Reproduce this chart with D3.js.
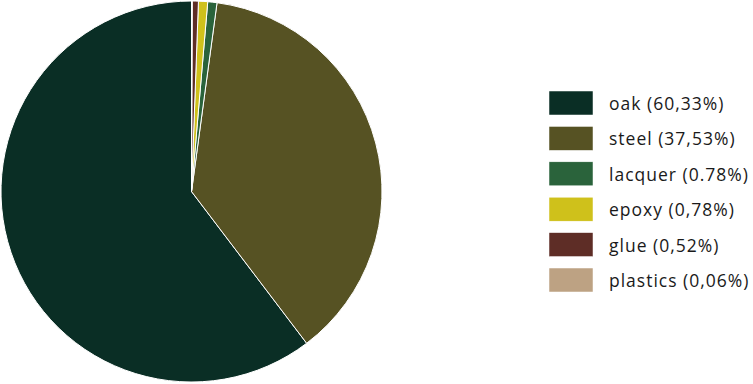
<!DOCTYPE html>
<html>
<head>
<meta charset="utf-8">
<script src="https://cdn.jsdelivr.net/npm/d3@7"></script>
<style>
  body { margin: 0; background: #fff; }
  svg { display: block; }
  .legend text { font-family: "Open Sans", sans-serif; font-size: 17.5px; fill: #1a1a1a; letter-spacing: 1px; }
</style>
</head>
<body>
<svg id="chart" width="753" height="384"></svg>
<script>
var categories = ["oak", "steel", "lacquer", "epoxy", "glue", "plastics"];
var values = [60.33, 37.53, 0.78, 0.78, 0.52, 0.06];
var labels = ["oak (60,33%)", "steel (37,53%)", "lacquer (0.78%)", "epoxy (0,78%)", "glue (0,52%)", "plastics (0,06%)"];
var colors = ["#0a2e25", "#565223", "#2a633b", "#cfc11b", "#5e2d26", "#bda283"];

var svg = d3.select("#chart");

var data = categories.map(function(c, i){
  return { name: c, value: values[i], label: labels[i], color: colors[i] };
});

// counter-clockwise from 12 o'clock, data order kept
var pie = d3.pie()
  .sort(null)
  .value(function(d){ return d.value; })
  .startAngle(0)
  .endAngle(-2 * Math.PI);

var arc = d3.arc().innerRadius(0).outerRadius(190.5);

var g = svg.append("g").attr("transform", "translate(191.5,191.5)");

g.selectAll("path")
  .data(pie(data))
  .enter()
  .append("path")
  .attr("d", arc)
  .attr("fill", function(d){ return d.data.color; })
  .attr("stroke", "#fff")
  .attr("stroke-width", 1);

// legend
var y = d3.scaleBand()
  .domain(categories)
  .range([91, 91 + 35.4 * categories.length]);

var legend = svg.append("g").attr("class", "legend");

var row = legend.selectAll("g")
  .data(data)
  .enter()
  .append("g")
  .attr("transform", function(d){ return "translate(549," + y(d.name) + ")"; });

row.append("rect")
  .attr("width", 44)
  .attr("height", 24)
  .attr("fill", function(d){ return d.color; })
  .attr("stroke", "#fff")
  .attr("stroke-width", 0.5);

row.append("text")
  .attr("x", 60)
  .attr("y", 19)
  .text(function(d){ return d.label; });
</script>
</body>
</html>
